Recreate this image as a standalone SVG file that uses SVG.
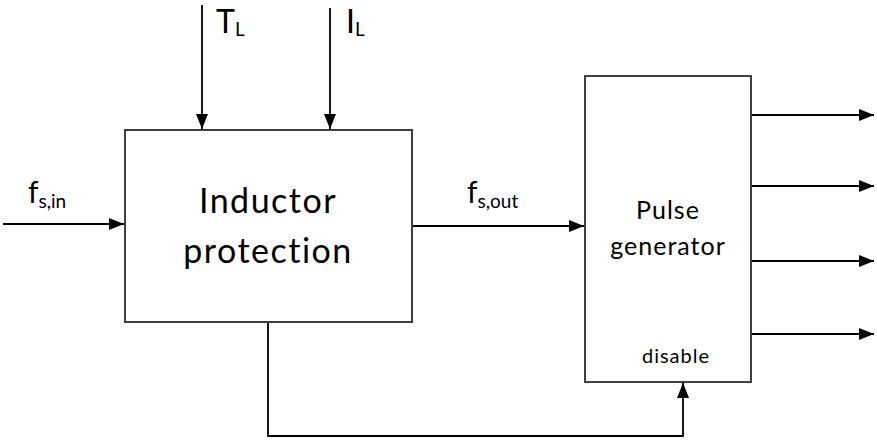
<svg xmlns="http://www.w3.org/2000/svg" width="877" height="444" viewBox="0 0 877 444">
<style>
.box{fill:#fff;stroke:#404040;stroke-width:2}
.ln{fill:none;stroke:#000;stroke-width:1.8}
.t{font-family:Lato,"Open Sans",sans-serif;fill:#000}
</style>
<defs>
<marker id="ah" markerWidth="15" markerHeight="12" refX="15" refY="6" orient="auto" markerUnits="userSpaceOnUse">
<path d="M0,0 L15,6 L0,12 Z" fill="#000"/>
</marker>
</defs>
<rect width="877" height="444" fill="#fff"/>
<g id="connectors">
<line class="ln" x1="202" y1="5" x2="202" y2="129" marker-end="url(#ah)"/>
<line class="ln" x1="330" y1="8" x2="330" y2="129" marker-end="url(#ah)"/>
<line class="ln" x1="3" y1="224" x2="124" y2="224" marker-end="url(#ah)"/>
<line class="ln" x1="412" y1="226" x2="584" y2="226" marker-end="url(#ah)"/>
<line class="ln" x1="751" y1="115" x2="874" y2="115" marker-end="url(#ah)"/>
<line class="ln" x1="751" y1="186" x2="874" y2="186" marker-end="url(#ah)"/>
<line class="ln" x1="751" y1="261" x2="874" y2="261" marker-end="url(#ah)"/>
<line class="ln" x1="751" y1="334" x2="874" y2="334" marker-end="url(#ah)"/>
<polyline class="ln" points="268,322 268,436 683,436 683,383" marker-end="url(#ah)"/>
</g>
<g id="labels">
<text class="t" x="216" y="33" font-size="32">T<tspan font-size="19" dy="3">L</tspan></text>
<text class="t" x="346" y="33" font-size="32">I<tspan font-size="19" dy="3">L</tspan></text>
<text class="t" x="28" y="203" font-size="30">f<tspan font-size="19" dy="5">s,in</tspan></text>
<text class="t" x="467" y="203" font-size="30">f<tspan font-size="19" dy="5">s,out</tspan></text>
</g>
<g id="inductor-protection">
<rect class="box" x="125" y="130" width="287" height="192"/>
<text class="t" x="268" y="213" font-size="34" letter-spacing="1.5" text-anchor="middle">Inductor</text>
<text class="t" x="268" y="263" font-size="34" letter-spacing="1.5" text-anchor="middle">protection</text>
</g>
<g id="pulse-generator">
<rect class="box" x="585" y="76" width="166" height="306"/>
<text class="t" x="668" y="219" font-size="25" letter-spacing="1" text-anchor="middle">Pulse</text>
<text class="t" x="668" y="255" font-size="25" letter-spacing="1" text-anchor="middle">generator</text>
<text class="t" x="676" y="363" font-size="20" letter-spacing="1" text-anchor="middle">disable</text>
</g>
</svg>
